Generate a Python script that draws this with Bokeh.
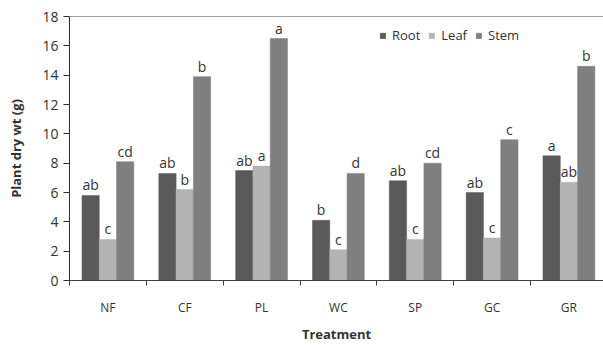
import numpy as np
from bokeh.plotting import figure
from bokeh.models import (ColumnDataSource, FixedTicker, Legend, LegendItem, Span, Range1d)
from bokeh.core.properties import value
from bokeh.embed import file_html
from bokeh.resources import INLINE

treatments = ["NF", "CF", "PL", "WC", "SP", "GC", "GR"]
root = [5.8, 7.3, 7.5, 4.1, 6.8, 6.0, 8.5]
leaf = [2.8, 6.2, 7.8, 2.1, 2.8, 2.9, 6.7]
stem = [8.1, 13.9, 16.5, 7.3, 8.0, 9.6, 14.6]
root_sig = ["ab", "ab", "ab", "b", "ab", "ab", "a"]
leaf_sig = ["c", "b", "a", "c", "c", "c", "ab"]
stem_sig = ["cd", "b", "a", "d", "cd", "c", "b"]
y_ticks = list(range(0, 19, 2))

FONT = "Open Sans"
TXT = "#333333"
colors = {"Root": "#5a5a5a", "Leaf": "#b3b3b3", "Stem": "#7f7f7f"}

centers = np.arange(len(treatments)) + 0.5
bw = 0.225

p = figure(width=603, height=345, output_backend="svg", toolbar_location=None,
           x_range=Range1d(0, 6.95), y_range=Range1d(0, 18),
           min_border_left=69, min_border_right=0, min_border_top=16, min_border_bottom=64)
p.xgrid.grid_line_color = None
p.ygrid.grid_line_color = None
p.outline_line_color = None
p.background_fill_color = "white"
p.border_fill_color = "white"

renderers = {}
for name, vals, sigs, off in [("Root", root, root_sig, -bw), ("Leaf", leaf, leaf_sig, 0.0),
                              ("Stem", stem, stem_sig, bw)]:
    src = ColumnDataSource(dict(x=centers + off, top=vals, sig=sigs))
    r = p.vbar(x="x", top="top", width=bw, bottom=0, source=src,
               fill_color=colors[name], line_color=colors[name], line_width=0.5)
    renderers[name] = r
    p.text(x="x", y="top", text="sig", source=src, text_align="center",
           text_baseline="bottom", y_offset=-1, text_font=value(FONT),
           text_font_size="14px", text_color=TXT)

# top frame line
p.add_layout(Span(location=18, dimension="width", line_color="#404040", line_width=1))

# x axis
xa = p.xaxis[0]
xa.ticker = FixedTicker(ticks=list(centers), minor_ticks=list(range(0, 8)))
xa.major_label_overrides = {float(c): t for c, t in zip(centers, treatments)}
xa.major_tick_out = 0
xa.major_tick_in = 0
xa.minor_tick_out = 5
xa.minor_tick_in = 0
xa.minor_tick_line_color = "#404040"
xa.axis_line_color = "#404040"
xa.major_label_standoff = 13
xa.major_label_text_font = FONT
xa.major_label_text_font_size = "12px"
xa.major_label_text_color = TXT
xa.axis_label = "Treatment"
xa.axis_label_text_font = FONT
xa.axis_label_text_font_style = "bold"
xa.axis_label_text_font_size = "13px"
xa.axis_label_text_color = TXT
xa.axis_label_standoff = 6

# y axis
ya = p.yaxis[0]
ya.ticker = FixedTicker(ticks=y_ticks)
ya.major_tick_out = 6
ya.major_tick_in = 0
ya.minor_tick_out = 0
ya.minor_tick_in = 0
ya.axis_line_color = "#303030"
ya.major_tick_line_color = "#303030"
ya.major_label_standoff = 5
ya.major_label_text_font = FONT
ya.major_label_text_font_size = "14px"
ya.major_label_text_color = TXT
ya.axis_label = "Plant dry wt (g)"
ya.axis_label_text_font = FONT
ya.axis_label_text_font_style = "bold"
ya.axis_label_text_font_size = "13px"
ya.axis_label_text_color = TXT
ya.axis_label_standoff = 14

legend = Legend(items=[LegendItem(label=k, renderers=[renderers[k]]) for k in ["Root", "Leaf", "Stem"]],
                orientation="horizontal", location=(310, 236),
                glyph_width=7, glyph_height=7, label_standoff=6, spacing=8,
                padding=0, margin=0, border_line_alpha=0, background_fill_alpha=0,
                label_text_font=FONT, label_text_font_size="13px", label_text_color=TXT)
p.add_layout(legend, "center")

open("out.html", "w").write(file_html(p, INLINE))
